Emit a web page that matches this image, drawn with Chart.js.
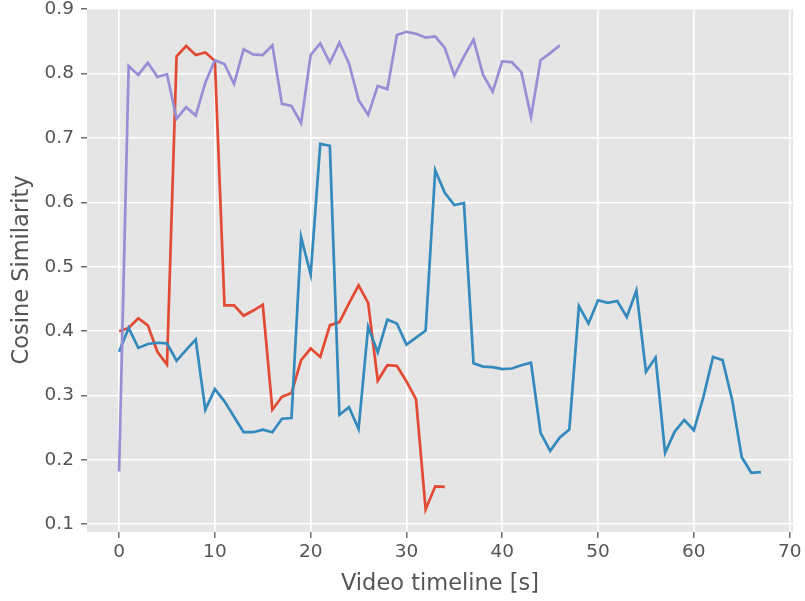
<!DOCTYPE html>
<html>
<head>
<meta charset="utf-8">
<script src="https://cdn.jsdelivr.net/npm/chart.js@4.4.1/dist/chart.umd.min.js"></script>
<style>
html,body{margin:0;padding:0;background:#fff;}
#wrap{width:805px;height:601px;position:relative;}
</style>
</head>
<body>
<div id="wrap"><canvas id="c" width="805" height="601"></canvas></div>
<script>
// Data
const redSeries = [0.400,0.405,0.420,0.409,0.368,0.348,0.827,0.843,0.829,0.833,0.820,0.440,0.440,0.424,0.432,0.441,0.278,0.298,0.304,0.355,0.373,0.360,0.409,0.414,0.443,0.471,0.444,0.323,0.347,0.346,0.322,0.294,0.123,0.159,0.158];
const blueSeries = [0.368,0.405,0.374,0.380,0.382,0.381,0.354,0.371,0.387,0.278,0.310,0.291,0.267,0.243,0.243,0.247,0.243,0.264,0.265,0.546,0.488,0.691,0.688,0.270,0.282,0.248,0.407,0.367,0.418,0.412,0.379,0.390,0.401,0.650,0.615,0.596,0.599,0.350,0.345,0.344,0.341,0.342,0.347,0.351,0.242,0.214,0.235,0.247,0.439,0.412,0.448,0.444,0.447,0.422,0.463,0.337,0.359,0.211,0.244,0.262,0.246,0.298,0.360,0.355,0.293,0.204,0.180,0.181];
const purpleSeries = [0.182,0.812,0.798,0.817,0.795,0.799,0.730,0.748,0.735,0.786,0.821,0.815,0.784,0.838,0.830,0.829,0.844,0.753,0.750,0.723,0.829,0.847,0.817,0.848,0.816,0.759,0.736,0.781,0.776,0.860,0.865,0.862,0.856,0.858,0.840,0.797,0.827,0.853,0.798,0.772,0.819,0.818,0.802,0.733,0.821,0.832,0.844];
const xTicks = [0,10,20,30,40,50,60,70];
const yTicks = [0.1,0.2,0.3,0.4,0.5,0.6,0.7,0.8,0.9];
const xTitle = 'Video timeline [s]';
const yTitle = 'Cosine Similarity';

function toPoints(arr){ return arr.map((v,i)=>({x:i,y:v})); }

const bgPlugin = {
  id:'bg',
  beforeDraw(chart){
    const {ctx, chartArea:a} = chart;
    ctx.save();
    ctx.fillStyle = '#E5E5E5';
    ctx.fillRect(a.left, a.top, a.right-a.left, a.bottom-a.top);
    ctx.restore();
  }
};

const font = {family:'"DejaVu Sans"', size:18.5};
const titleFont = {family:'"DejaVu Sans"', size:22.5};
const grey = '#555555';

new Chart(document.getElementById('c'), {
  type:'line',
  data:{
    datasets:[
      {data:toPoints(redSeries), borderColor:'#E24A33', order:3},
      {data:toPoints(blueSeries), borderColor:'#348ABD', order:2},
      {data:toPoints(purpleSeries), borderColor:'#988ED5', order:1}
    ]
  },
  options:{
    responsive:false,
    animation:false,
    events:[],
    layout:{padding:{left:0,right:12,top:8,bottom:0}},
    elements:{
      line:{borderWidth:2.7, tension:0, fill:false, borderCapStyle:'butt', borderJoinStyle:'miter'},
      point:{radius:0}
    },
    plugins:{legend:{display:false}, tooltip:{enabled:false}},
    scales:{
      x:{
        type:'linear', min:-3.35, max:70.35,
        afterBuildTicks(s){ s.ticks = xTicks.map(v=>({value:v})); },
        afterFit(s){ s.height = 69; s.paddingLeft = 0; s.paddingRight = 0; },
        grid:{color:'#ffffff', lineWidth:1.6, tickColor:grey, tickLength:6, tickWidth:1.3},
        border:{display:false},
        ticks:{color:grey, font:font, padding:3, maxRotation:0, callback:v=>String(v)},
        title:{display:true, text:xTitle, color:grey, font:titleFont, padding:{top:0,bottom:3}}
      },
      y:{
        type:'linear', min:0.088, max:0.902,
        afterBuildTicks(s){ s.ticks = yTicks.map(v=>({value:v})); },
        afterFit(s){ s.width = 87; s.paddingTop = 0; s.paddingBottom = 0; },
        grid:{color:'#ffffff', lineWidth:1.6, tickColor:grey, tickLength:6, tickWidth:1.3},
        border:{display:false},
        ticks:{color:grey, font:font, padding:7, callback:v=>v.toFixed(1)},
        title:{display:true, text:yTitle, color:grey, font:titleFont, padding:{top:9,bottom:0}}
      }
    }
  },
  plugins:[bgPlugin]
});
</script>
</body>
</html>
